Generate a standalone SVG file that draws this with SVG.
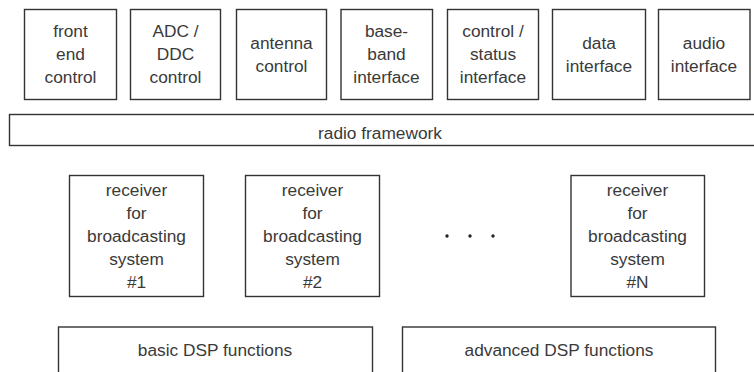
<svg xmlns="http://www.w3.org/2000/svg" width="754" height="372" viewBox="0 0 754 372">
<style>
rect{fill:#fff;stroke:#333;stroke-width:1.4}
text{font-family:"Liberation Sans",Arial,sans-serif;font-size:17.3px;fill:#3a3a3a;text-anchor:middle}
.dot{fill:#222}
</style>
<rect x="0" y="0" width="754" height="372" style="fill:#fff;stroke:none"/>
<g id="front-end-control"><rect x="24.5" y="9.5" width="92" height="90"/><text x="70.5" y="37">front</text><text x="70.5" y="60">end</text><text x="70.5" y="83">control</text></g>
<g id="adc-ddc-control"><rect x="130.5" y="9.5" width="90" height="90"/><text x="175.5" y="37">ADC /</text><text x="175.5" y="60">DDC</text><text x="175.5" y="83">control</text></g>
<g id="antenna-control"><rect x="236.5" y="9.5" width="90" height="90"/><text x="281.5" y="49">antenna</text><text x="281.5" y="72">control</text></g>
<g id="baseband-interface"><rect x="341" y="9.5" width="91.5" height="90"/><text x="386.5" y="37">base-</text><text x="386.5" y="60">band</text><text x="386.5" y="83">interface</text></g>
<g id="control-status-interface"><rect x="447.5" y="9.5" width="91" height="90"/><text x="493" y="37">control /</text><text x="493" y="60">status</text><text x="493" y="83">interface</text></g>
<g id="data-interface"><rect x="552.5" y="9.5" width="93" height="90"/><text x="599" y="49">data</text><text x="599" y="72">interface</text></g>
<g id="audio-interface"><rect x="658.5" y="9.5" width="91.5" height="90"/><text x="704" y="49">audio</text><text x="704" y="72">interface</text></g>
<g id="radio-framework"><rect x="9.5" y="114.5" width="760" height="31"/><text x="380" y="139">radio framework</text></g>
<g id="receiver-1"><rect x="69.5" y="175.5" width="134" height="121"/><text x="136.5" y="196">receiver</text><text x="136.5" y="219">for</text><text x="136.5" y="242">broadcasting</text><text x="136.5" y="265">system</text><text x="136.5" y="288">#1</text></g>
<g id="receiver-2"><rect x="245.5" y="175.5" width="134" height="121"/><text x="312.5" y="196">receiver</text><text x="312.5" y="219">for</text><text x="312.5" y="242">broadcasting</text><text x="312.5" y="265">system</text><text x="312.5" y="288">#2</text></g>
<g id="ellipsis"><circle class="dot" cx="447" cy="236" r="1.7"/><circle class="dot" cx="470" cy="236" r="1.7"/><circle class="dot" cx="493" cy="236" r="1.7"/></g>
<g id="receiver-n"><rect x="571" y="175.5" width="133.5" height="121"/><text x="637.5" y="196">receiver</text><text x="637.5" y="219">for</text><text x="637.5" y="242">broadcasting</text><text x="637.5" y="265">system</text><text x="637.5" y="288">#N</text></g>
<g id="basic-dsp"><rect x="58.5" y="327" width="314" height="60"/><text x="215" y="356">basic DSP functions</text></g>
<g id="advanced-dsp"><rect x="402.5" y="327" width="313" height="60"/><text x="559" y="356">advanced DSP functions</text></g>
<g id="connectors"/>
</svg>
